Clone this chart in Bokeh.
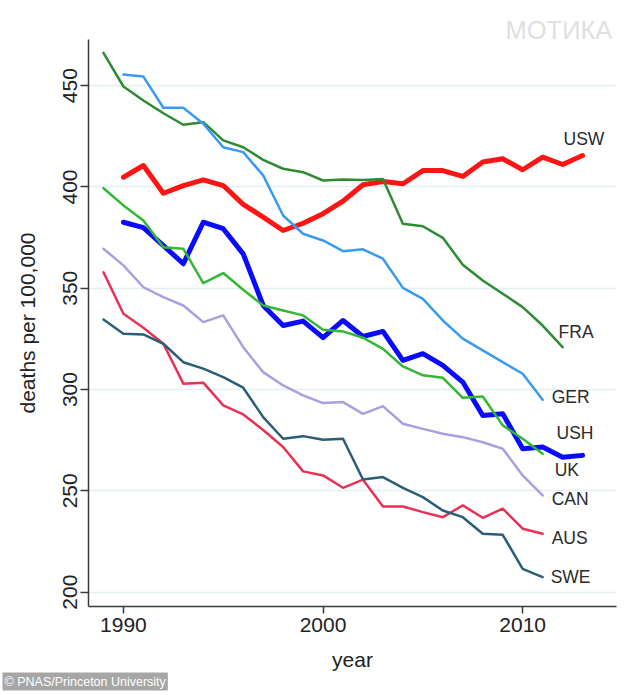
from bokeh.plotting import figure
from bokeh.models import FixedTicker, Title, ColumnDataSource, Range1d
from bokeh.core.properties import value
from bokeh.embed import file_html
from bokeh.resources import INLINE

# ---------------- data ----------------
years_89_11 = list(range(1989, 2012))
years_89_12 = list(range(1989, 2013))
years_90_11 = list(range(1990, 2012))
years_90_13 = list(range(1990, 2014))

usw = [404.8, 410.6, 396.9, 400.7, 403.5, 400.7, 391.4, 385.1, 378.5, 382.1, 386.8, 393.0,
       401.1, 402.7, 401.6, 408.1, 408.1, 405.2, 412.3, 413.9, 408.5, 414.7, 411.1, 415.5]
ush = [382.6, 379.9, 371.1, 362.1, 382.6, 379.4, 367.0, 341.5, 331.6, 333.8, 325.6, 334.1,
       326.2, 328.7, 314.4, 317.7, 311.9, 303.7, 287.2, 288.0, 270.8, 271.6, 266.6, 267.5]
fra = [466.2, 449.6, 442.7, 436.4, 430.7, 432.0, 423.0, 419.6, 413.4, 409.0, 407.3, 403.2,
       403.7, 403.4, 403.9, 381.8, 380.6, 374.9, 361.6, 353.8, 347.3, 340.7, 331.6, 320.9]
ger = [455.5, 454.5, 439.1, 439.1, 431.2, 419.6, 417.2, 405.7, 385.9, 376.9, 373.6, 368.3,
       369.2, 364.6, 350.2, 344.8, 334.1, 325.1, 319.3, 313.5, 307.8, 295.0]
uk = [399.4, 390.9, 383.5, 370.3, 369.5, 352.5, 357.5, 349.3, 341.5, 339.0, 336.6, 329.5,
      328.7, 325.6, 320.1, 311.4, 307.0, 305.8, 295.9, 296.6, 282.3, 275.7, 268.3]
can = [369.5, 361.3, 350.5, 345.6, 341.5, 333.3, 336.6, 320.9, 308.6, 302.0, 297.1, 293.3,
       293.8, 288.0, 291.8, 283.1, 280.6, 278.2, 276.5, 274.0, 270.8, 257.6, 247.7]
aus = [357.9, 337.4, 330.5, 322.6, 302.9, 303.4, 292.2, 287.7, 280.0, 271.6, 259.6, 257.6,
       251.5, 255.5, 242.3, 242.3, 239.5, 237.0, 242.8, 236.7, 241.2, 231.3, 228.8]
swe = [334.6, 327.5, 327.2, 322.6, 313.5, 310.3, 306.1, 300.9, 286.4, 275.7, 277.0, 275.2,
       275.7, 255.6, 256.8, 251.5, 246.9, 240.3, 237.0, 228.8, 228.3, 211.5, 207.4]

names = ["USW", "USH", "FRA", "GER", "UK", "CAN", "AUS", "SWE"]
y_ticks = [200, 250, 300, 350, 400, 450]
x_ticks = [1990, 2000, 2010]

# ---------------- styles ----------------
series = {
    "USW": (years_90_13, usw, "#ff1414", 5.0, (-19, -17)),
    "USH": (years_90_13, ush, "#0a0aff", 5.0, (-26, -22)),
    "FRA": (years_89_12, fra, "#2e8b34", 2.5, (-4, -15)),
    "GER": (years_90_11, ger, "#3a9af0", 2.5, (9, -3)),
    "UK":  (years_89_11, uk, "#33b833", 2.5, (12, 16)),
    "CAN": (years_89_11, can, "#ab9fe0", 2.5, (9, 4)),
    "AUS": (years_89_11, aus, "#e83157", 2.5, (9, 4)),
    "SWE": (years_89_11, swe, "#2c5d78", 2.5, (8, 0)),
}
FONT = "Liberation Sans"

p = figure(width=634, height=695, output_backend="svg", toolbar_location=None,
           x_range=Range1d(1988.25, 2014.7), y_range=Range1d(192.9, 472.8),
           min_border_left=88, min_border_right=18, min_border_top=39, min_border_bottom=89)
p.outline_line_color = None
p.background_fill_color = "white"
p.border_fill_color = "white"

# grid
p.xgrid.grid_line_color = None
p.ygrid.ticker = FixedTicker(ticks=y_ticks)
p.ygrid.grid_line_color = "#e4f0f1"
p.ygrid.grid_line_width = 1.5

# axes
for ax in (p.xaxis[0], p.yaxis[0]):
    ax.axis_line_color = "#3a3a3a"
    ax.axis_line_width = 1.5
    ax.major_tick_line_color = "#3a3a3a"
    ax.major_tick_line_width = 1.5
    ax.major_tick_in = 0
    ax.minor_tick_line_color = None
    ax.major_label_text_font = FONT
    ax.major_label_text_font_size = "21px"
    ax.major_label_text_color = "#222222"
    ax.axis_label_text_font = FONT
    ax.axis_label_text_font_size = "21px"
    ax.axis_label_text_font_style = "normal"
    ax.axis_label_text_color = "#222222"

p.xaxis.ticker = FixedTicker(ticks=x_ticks)
p.xaxis.major_tick_out = 7
p.xaxis.major_label_standoff = 4
p.xaxis.axis_label = "year"
p.xaxis.axis_label_standoff = 13

p.yaxis.ticker = FixedTicker(ticks=y_ticks)
p.yaxis.major_tick_out = 8
p.yaxis.major_label_orientation = "vertical"
p.yaxis.major_label_standoff = 3
p.yaxis.axis_label = "deaths per 100,000"
p.yaxis.axis_label_standoff = 22

# lines: thick first, thin on top
order = ["USW", "USH", "FRA", "GER", "UK", "CAN", "AUS", "SWE"]
for name in order:
    xs, ys, color, lw, _ = series[name]
    p.line(xs, ys, line_color=color, line_width=lw, line_join="round", line_cap="round")

# end labels
for name in names:
    xs, ys, color, lw, (dx, dy) = series[name]
    src = ColumnDataSource(dict(x=[xs[-1]], y=[ys[-1]], t=[name]))
    p.text(x="x", y="y", text="t", source=src, x_offset=dx, y_offset=dy,
           text_font=value(FONT), text_font_size="17.5px", text_color="#2a2a2a",
           text_align="left", text_baseline="middle")

# watermark (top right) as a title in the top panel
p.add_layout(Title(text="МОТИКА", align="left", offset=417, standoff=-8,
                   text_font=FONT, text_font_size="25.5px", text_font_style="normal",
                   text_color="#e0e0e0"), "above")

# credit (bottom left) as a title in the bottom panel
p.add_layout(Title(text="© PNAS/Princeton University", align="left", offset=-86, standoff=-6,
                   text_font=FONT, text_font_size="12.5px", text_font_style="normal",
                   text_color="#ffffff", background_fill_color="#9c9c9c",
                   background_fill_alpha=0.9, padding=2), "below")

open("out.html", "w").write(file_html(p, INLINE))
